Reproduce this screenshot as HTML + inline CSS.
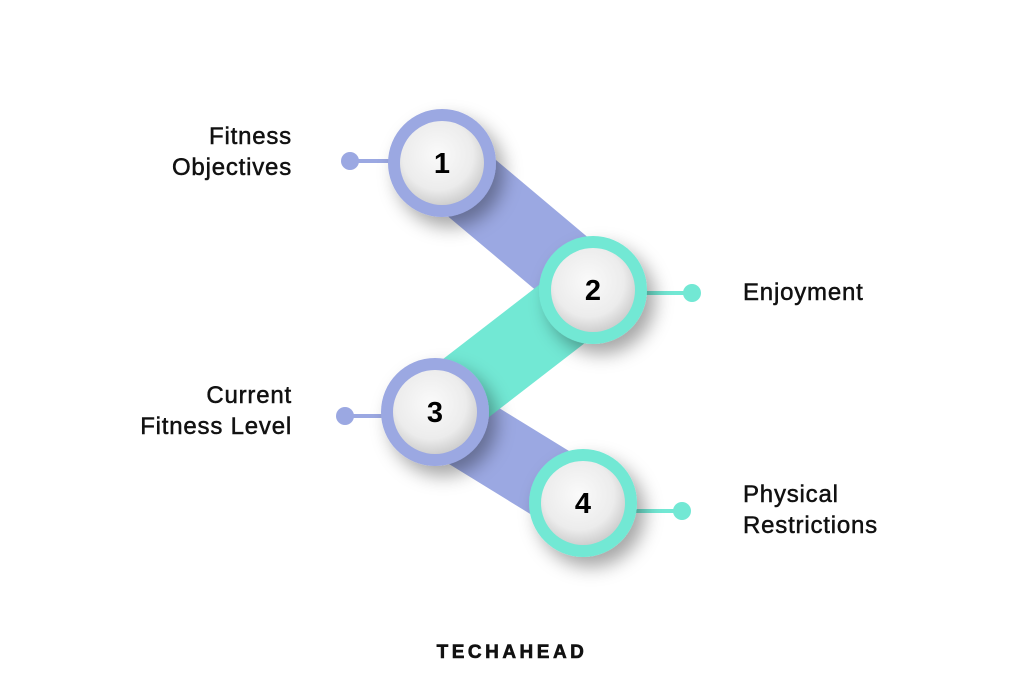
<!DOCTYPE html>
<html><head><style>
body{margin:0;width:1024px;height:682px;background:#fff;overflow:hidden;font-family:"Liberation Sans",sans-serif;}
.t{position:absolute;font-size:24px;font-weight:normal;color:#111;line-height:31px;letter-spacing:0.8px;-webkit-text-stroke:0.5px #111;}
</style></head><body>
<svg width="1024" height="682" style="position:absolute;left:0;top:0">
<defs>
<radialGradient id="g" cx="45%" cy="40%" r="60%"><stop offset="0" stop-color="#fafafa"/><stop offset="0.7" stop-color="#ececec"/><stop offset="1" stop-color="#cfcfcf"/></radialGradient>
<filter id="s" x="-50%" y="-50%" width="200%" height="200%"><feDropShadow dx="8" dy="10" stdDeviation="9" flood-color="#000" flood-opacity="0.35"/></filter>
</defs>
<line x1="442" y1="163" x2="593" y2="290" stroke="#9ba8e2" stroke-width="74"/>
<line x1="435" y1="412" x2="583" y2="503" stroke="#9ba8e2" stroke-width="74"/>
<line x1="593" y1="290" x2="435" y2="412" stroke="#72e8d4" stroke-width="74"/>
<line x1="350" y1="161" x2="400" y2="161" stroke="#9ba8e2" stroke-width="4"/><circle cx="350" cy="161" r="9" fill="#9ba8e2"/>
<line x1="640" y1="293" x2="692" y2="293" stroke="#72e8d4" stroke-width="4"/><circle cx="692" cy="293" r="9" fill="#72e8d4"/>
<line x1="345" y1="416" x2="390" y2="416" stroke="#9ba8e2" stroke-width="4"/><circle cx="345" cy="416" r="9" fill="#9ba8e2"/>
<line x1="630" y1="511" x2="682" y2="511" stroke="#72e8d4" stroke-width="4"/><circle cx="682" cy="511" r="9" fill="#72e8d4"/>
<g filter="url(#s)"><circle cx="442" cy="163" r="54" fill="#9ba8e2"/></g><circle cx="442" cy="163" r="42" fill="url(#g)"/>
<g filter="url(#s)"><circle cx="593" cy="290" r="54" fill="#72e8d4"/></g><circle cx="593" cy="290" r="42" fill="url(#g)"/>
<g filter="url(#s)"><circle cx="435" cy="412" r="54" fill="#9ba8e2"/></g><circle cx="435" cy="412" r="42" fill="url(#g)"/>
<g filter="url(#s)"><circle cx="583" cy="503" r="54" fill="#72e8d4"/></g><circle cx="583" cy="503" r="42" fill="url(#g)"/>
<g font-family="Liberation Sans" font-weight="bold" font-size="29" fill="#000" text-anchor="middle">
<text x="442" y="173">1</text><text x="593" y="300">2</text><text x="435" y="422">3</text><text x="583" y="513">4</text>
</g>
<text x="512" y="658" text-anchor="middle" font-family="Liberation Sans" font-weight="bold" font-size="19" letter-spacing="3.5" fill="#111" stroke="#111" stroke-width="0.6">TECHAHEAD</text>
</svg>
<div class="t" style="right:732px;top:121px;text-align:right">Fitness<br>Objectives</div>
<div class="t" style="left:743px;top:277px">Enjoyment</div>
<div class="t" style="right:732px;top:380px;text-align:right">Current<br>Fitness Level</div>
<div class="t" style="left:743px;top:479px">Physical<br>Restrictions</div>
</body></html>
